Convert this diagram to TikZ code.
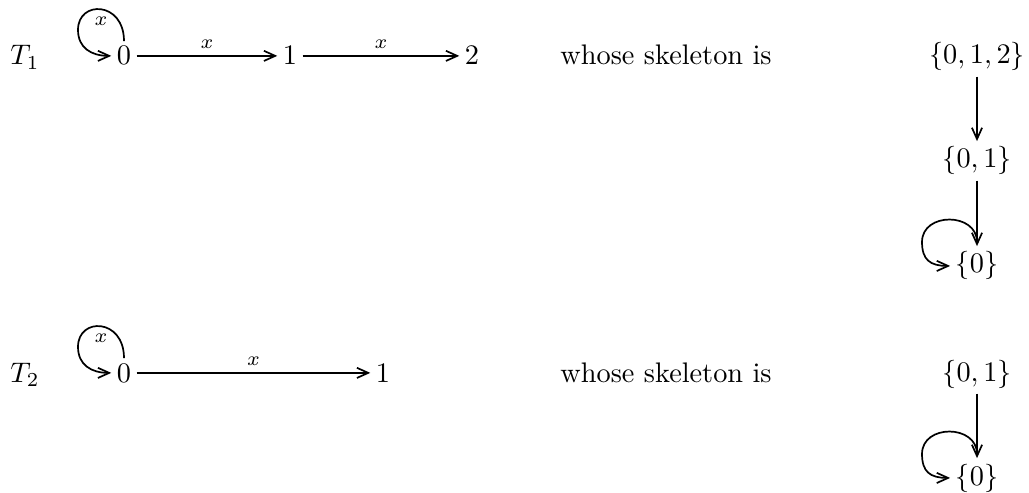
\documentclass[tikz,border=0pt]{standalone}
\usetikzlibrary{calc,arrows.meta}
\begin{document}
\begin{tikzpicture}[x=0.3534pt,y=-0.3534pt, line width=0.6pt,
  st/.style={anchor=base,inner sep=2pt,outer sep=0pt},
  lbl/.style={inner sep=2.4pt},
  arr/.style={-{Straight Barb[length=4pt,width=3.6pt]}}]
\useasboundingbox (0,0) rectangle (1029,493);
% row 1
\node[st] (T1) at (25,65) {$T_1$};
\node[st] (n0) at (124,65) {$0$};
\node[st] (n1) at (290,65) {$1$};
\node[st] (n2) at (472,65) {$2$};
\node[st] (w1) at (666,65) {whose skeleton is};
\node[st] (s012) at (977,64) {$\{0,1,2\}$};
\node[st] (s01) at (977,168) {$\{0,1\}$};
\node[st] (s0) at (977,273) {$\{0\}$};
\draw[arr] (n0) -- node[above,lbl]{$\scriptstyle x$} (n1);
\draw[arr] (n1) -- node[above,lbl]{$\scriptstyle x$} (n2);
\draw[arr] (n0.north) .. controls +(0,-40) and +(0,-30) .. ($(n0.center)+(-46,-26)$)
  node[pos=0.5,below,lbl]{$\scriptstyle x$}
  .. controls +(0,18) and +(-20,0) .. (n0.west);
\draw[arr] (s012) -- (s01);
\draw[arr] (s01) -- (s0);
\draw[arr] ($(s0.north)+(0,-4)$) .. controls +(0,-30) and +(0,-30) .. ($(s0.center)+(-55,-24)$)
  .. controls +(0,18) and +(-20,0) .. (s0.west);
% row 2
\node[st] (T2) at (25,382) {$T_2$};
\node[st] (m0) at (124,382) {$0$};
\node[st] (m1) at (383,382) {$1$};
\node[st] (w2) at (666,382) {whose skeleton is};
\node[st] (t01) at (977,381) {$\{0,1\}$};
\node[st] (t0) at (977,485) {$\{0\}$};
\draw[arr] (m0) -- node[above,lbl]{$\scriptstyle x$} (m1);
\draw[arr] (m0.north) .. controls +(0,-40) and +(0,-30) .. ($(m0.center)+(-46,-26)$)
  node[pos=0.5,below,lbl]{$\scriptstyle x$}
  .. controls +(0,18) and +(-20,0) .. (m0.west);
\draw[arr] (t01) -- (t0);
\draw[arr] ($(t0.north)+(0,-4)$) .. controls +(0,-30) and +(0,-30) .. ($(t0.center)+(-55,-24)$)
  .. controls +(0,18) and +(-20,0) .. (t0.west);
\end{tikzpicture}
\end{document}
